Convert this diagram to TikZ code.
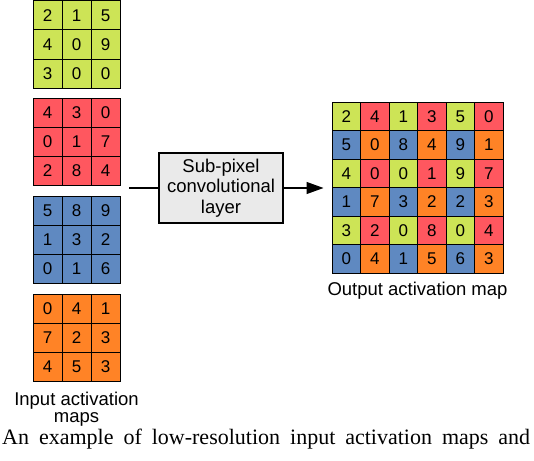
\documentclass[tikz,border=0pt]{standalone}
\usepackage{fontspec}
\setmainfont{Liberation Serif}
\setsansfont{Liberation Sans}
\usetikzlibrary{positioning,arrows.meta}

\definecolor{pix0}{RGB}{205,228,86}
\definecolor{pix1}{RGB}{255,87,95}
\definecolor{pix2}{RGB}{95,137,193}
\definecolor{pix3}{RGB}{255,131,38}
\definecolor{layergray}{RGB}{234,234,234}

\tikzset{
  cell/.style={draw, rectangle, line width=1pt, inner sep=0pt, minimum size=29pt,
    font=\sffamily\fontsize{17}{17}\selectfont},
  outcell/.style={cell, minimum size=28.5pt},
  layer/.style={draw, rectangle, line width=1.2pt, fill=layergray, minimum width=124pt,
    minimum height=70pt, align=center, inner sep=0pt,
    font=\sffamily\fontsize{18.5}{20.5}\selectfont},
  maplabel/.style={font=\sffamily\fontsize{18.5}{17.5}\selectfont, align=center, inner sep=0pt},
  flow/.style={line width=1.2pt}
}

% one 3x3 input map: name, colour index, top edge, values
\newcommand{\inmap}[4]{%
  \foreach \val [count=\k from 0] in {#4} {
    \pgfmathtruncatemacro{\cx}{mod(\k,3)}
    \pgfmathtruncatemacro{\ry}{floor(\k/3)}
    \node[cell, fill=pix#2] (#1-\ry-\cx) at (47.5+29*\cx, #3+14.5+29*\ry) {\val};
  }%
}

\begin{document}
\begin{tikzpicture}[x=1pt, y=-1pt]
    \useasboundingbox (0,0) rectangle (534,460);
    % Input maps
    \inmap{g}{0}{1}{2,1,5,4,0,9,3,0,0}
    \inmap{r}{1}{98}{4,3,0,0,1,7,2,8,4}
    \inmap{b}{2}{196}{5,8,9,1,3,2,0,1,6}
    \inmap{o}{3}{294}{0,4,1,7,2,3,4,5,3}
    \node[maplabel] (inlabel) at (76.5,409) {Input activation\\maps};

    % Output map
    \foreach \val [count=\k from 0] in {2,4,1,3,5,0, 5,0,8,4,9,1, 4,0,0,1,9,7,
                                       1,7,3,2,2,3, 3,2,0,8,0,4, 0,4,1,5,6,3} {
      \pgfmathtruncatemacro{\cx}{mod(\k,6)}
      \pgfmathtruncatemacro{\ry}{floor(\k/6)}
      \pgfmathtruncatemacro{\pick}{2*mod(\ry,2)+mod(\cx,2)}
      \node[outcell, fill=pix\pick] (out-\ry-\cx) at (346.25+28.5*\cx, 116.25+28.5*\ry) {\val};
    }
    \node[maplabel, anchor=base] (outlabel) at (417.5,295) {Output activation map};

    % Layer and arrows
    \node[layer] (subpix) at (221,188) {Sub-pixel\\convolutional\\layer};
    \coordinate (feed) at (129,188);
    \draw[flow] (feed) -- (subpix);
    \draw[flow, -{Triangle[length=17pt, width=12pt]}, shorten >=8pt] (subpix) -- (out-2-0.south west);

    % Caption
    \node[anchor=base west, inner sep=0pt, font=\fontsize{22}{24}\selectfont] (figcap) at (2,444)
      {\makebox[528pt][s]{An example of low-resolution input activation maps and}};
\end{tikzpicture}
\end{document}
